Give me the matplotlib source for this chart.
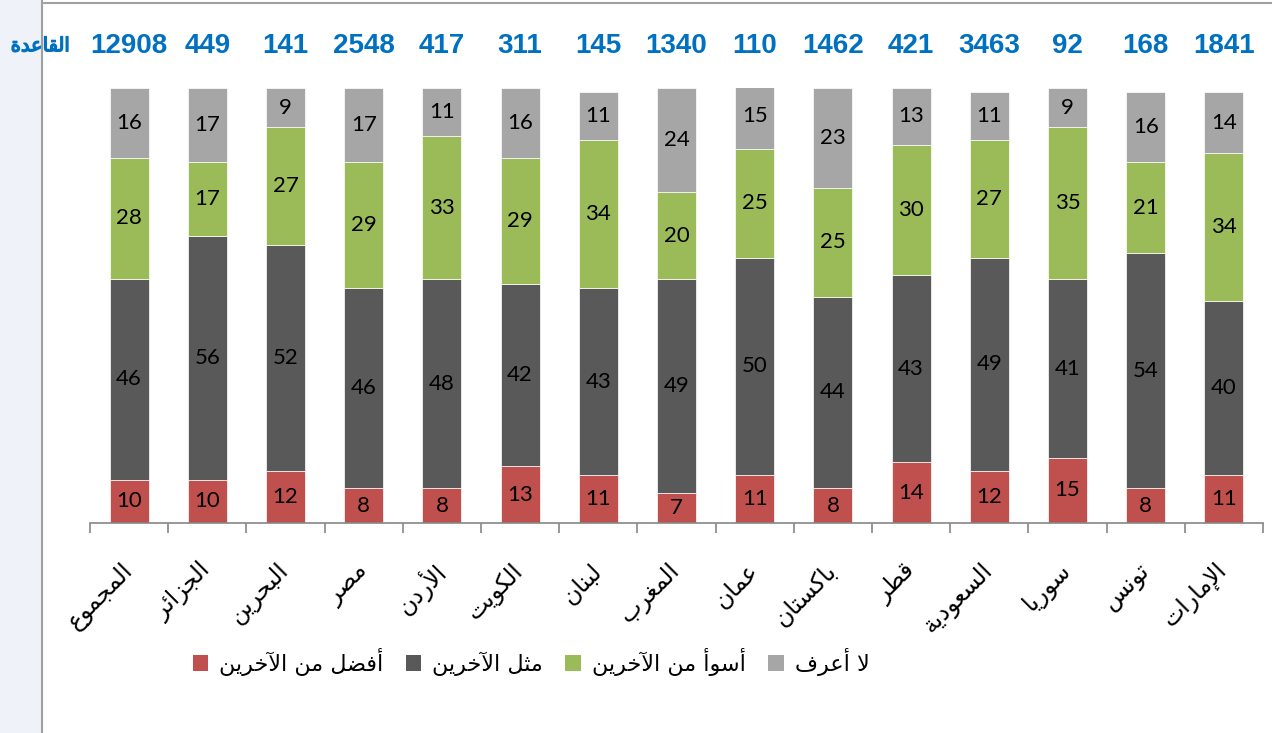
import unicodedata
import numpy as np
import matplotlib
matplotlib.use('Agg')
import matplotlib.pyplot as plt
import matplotlib.patheffects as pe
from matplotlib.patches import Rectangle, Patch
from matplotlib.lines import Line2D

# data, left to right as in the chart
countries = ['المجموع', 'الجزائر', 'البحرين', 'مصر', 'الأردن', 'الكويت', 'لبنان', 'المغرب',
             'عمان', 'باكستان', 'قطر', 'السعودية', 'سوريا', 'تونس', 'الإمارات']
base_n = [12908, 449, 141, 2548, 417, 311, 145, 1340, 110, 1462, 421, 3463, 92, 168, 1841]
better = [10, 10, 12, 8, 8, 13, 11, 7, 11, 8, 14, 12, 15, 8, 11]
same = [46, 56, 52, 46, 48, 42, 43, 49, 50, 44, 43, 49, 41, 54, 40]
worse = [28, 17, 27, 29, 33, 29, 34, 20, 25, 25, 30, 27, 35, 21, 34]
dontknow = [16, 17, 9, 17, 11, 16, 11, 24, 15, 23, 13, 11, 9, 16, 14]
series_names = ['أفضل من الآخرين', 'مثل الآخرين', 'أسوأ من الآخرين', 'لا أعرف']
base_label = 'القاعدة'

colors = ['#C0504D', '#595959', '#9BBB59', '#A6A6A6']


# matplotlib does no arabic shaping, so pick presentation forms by hand
def forms(name):
    f = {}
    for k in ('ISOLATED', 'FINAL', 'INITIAL', 'MEDIAL'):
        try:
            f[k] = unicodedata.lookup(name + ' ' + k + ' FORM')
        except KeyError:
            pass
    return f


def shape(text):
    units = []
    i = 0
    while i < len(text):
        ch = text[i]
        nm = unicodedata.name(ch, '')
        if ch == 'ل' and i + 1 < len(text) and unicodedata.name(text[i + 1], '').startswith('ARABIC LETTER ALEF'):
            rest = unicodedata.name(text[i + 1])[len('ARABIC LETTER '):]
            units.append(forms('ARABIC LIGATURE LAM WITH ' + rest))
            i += 2
            continue
        if nm.startswith('ARABIC LETTER'):
            units.append(forms(nm))
        else:
            units.append({'ISOLATED': ch})
        i += 1
    out = []
    for j, u in enumerate(units):
        prev_j = j > 0 and 'INITIAL' in units[j - 1] and 'FINAL' in u
        next_j = j + 1 < len(units) and 'INITIAL' in u and 'FINAL' in units[j + 1]
        if prev_j and next_j:
            out.append(u['MEDIAL'])
        elif prev_j:
            out.append(u['FINAL'])
        elif next_j:
            out.append(u['INITIAL'])
        else:
            out.append(u['ISOLATED'])
    return ''.join(out)[::-1]


fig = plt.figure(figsize=(12.72, 7.33), dpi=100)
ax = fig.add_axes([90 / 1272, 1 - 523 / 733, 1173 / 1272, 435 / 733])
ax.patch.set_alpha(0)

# frame bits of the excel sheet
fig.patches.append(Rectangle((0, 0), 42 / 1272, 1, transform=fig.transFigure, color='#EFF3F9', zorder=-1))
fig.lines.append(Line2D([42 / 1272, 42 / 1272], [0, 1], transform=fig.transFigure, color='#A0A0A0', lw=1.5))
fig.lines.append(Line2D([42 / 1272, 1], [1 - 3 / 733, 1 - 3 / 733], transform=fig.transFigure, color='#A0A0A0', lw=1.5))

x = np.arange(len(countries))
bottom = np.zeros(len(countries))
for vals, c in zip([better, same, worse, dontknow], colors):
    vals = np.array(vals)
    ax.bar(x, vals, 0.5, bottom=bottom, color=c, edgecolor='white', linewidth=0.5)
    for xi, b, v in zip(x, bottom, vals):
        ax.text(xi, b + v / 2, str(v), ha='center', va='center', fontsize=16, family='Lato', color='black')
    bottom += vals

for xi, n in zip(x, base_n):
    ax.text(xi, 109.7, str(n), ha='center', va='center', fontsize=20, fontweight='bold',
            family='Liberation Sans', color='#0070C0', clip_on=False)
ax.text(-0.75, 109.7, shape(base_label), ha='right', va='center', fontsize=14,
        family='DejaVu Sans', color='#0070C0', clip_on=False, zorder=5,
        path_effects=[pe.withStroke(linewidth=1.0, foreground='#0070C0')])

ax.set_xlim(-0.5, len(countries) - 0.5)
ax.set_ylim(0, 100)
for s in ['top', 'left', 'right']:
    ax.spines[s].set_visible(False)
ax.spines['bottom'].set_color('#868686')
ax.spines['bottom'].set_linewidth(1.2)
ax.set_yticks([])

ax.set_xticks(x)
ax.set_xticklabels([shape(c) for c in countries], fontsize=17, family='DejaVu Sans')
ax.tick_params(axis='x', which='major', length=0, pad=32)
plt.setp(ax.get_xticklabels(), rotation=45, ha='right', va='center', rotation_mode='anchor')
ax.set_xticks(np.arange(-0.5, len(countries), 1), minor=True)
ax.tick_params(axis='x', which='minor', length=7.5, color='#868686', width=1.2)

handles = [Patch(facecolor=c) for c in colors]
fig.legend(handles, [shape(s) for s in series_names], ncol=4, loc='center',
           bbox_to_anchor=(531 / 1272, 1 - 662 / 733), frameon=False,
           prop={'family': 'DejaVu Sans', 'size': 16},
           handlelength=0.7, handleheight=0.7, handletextpad=0.5, columnspacing=1.0)

fig.savefig('out.png', dpi=100)
